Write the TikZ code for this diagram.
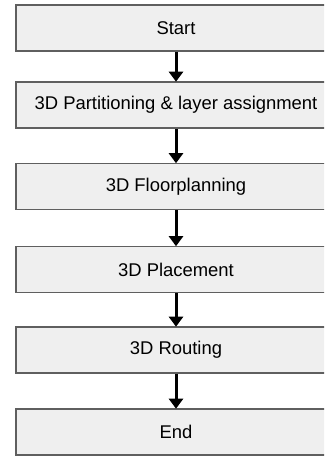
\documentclass[tikz,border=0pt]{standalone}
\usepackage{fontspec}
\setmainfont{Liberation Sans}
\usetikzlibrary{arrows.meta,positioning}
\definecolor{stepfill}{RGB}{239,239,239}
\definecolor{stepline}{RGB}{95,95,95}

\begin{document}
\begin{tikzpicture}[
  x=1bp, y=-1bp,
  >={Triangle[length=10bp,width=14bp]},
  font=\fontsize{18.5}{20}\selectfont,
  stage/.style={rectangle,draw=stepline,fill=stepfill,line width=1.6bp,
                minimum width=320bp,minimum height=46bp,inner sep=0pt},
  flow/.style={->,line width=3bp,black,shorten >=-0.5bp},
]
\useasboundingbox (0,0) rectangle (324,456);
\clip (0,0) rectangle (324,456);
% --- design flow stages ---
\node[stage] (start) at (176,28)    {Start};
\node[stage] (part)  at (176,105)   {3D Partitioning \& layer assignment};
\node[stage] (floor) at (176,186.5) {3D Floorplanning};
\node[stage] (place) at (176,269.5) {3D Placement};
\node[stage] (route) at (176,350)   {3D Routing};
\node[stage] (end)   at (176,432)   {End};

% --- arrows between stages ---
\foreach \a/\b in {start/part,part/floor,floor/place,place/route,route/end}
  \draw[flow] (\a) -- (\b);
\end{tikzpicture}
\end{document}
